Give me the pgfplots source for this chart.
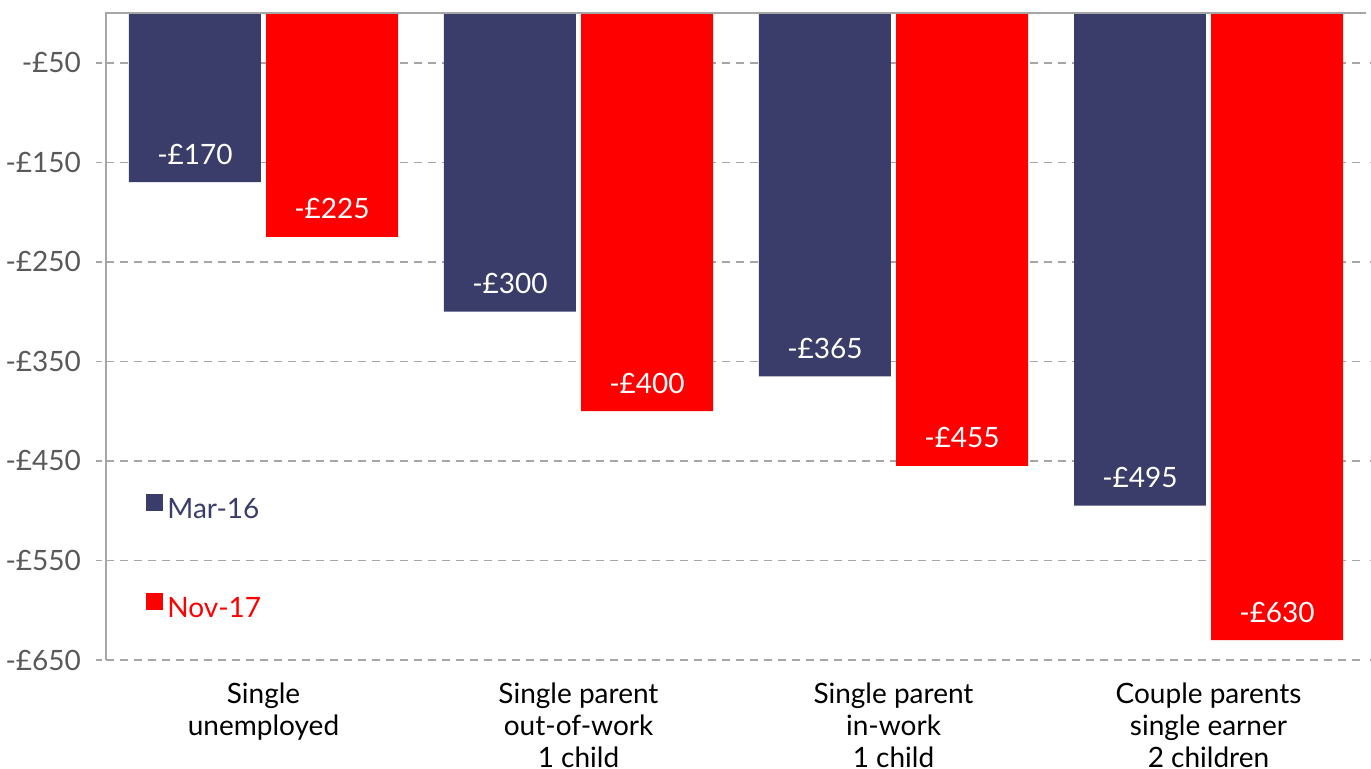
\documentclass[border=0pt]{standalone}
\usepackage{fontspec}
\setmainfont{Lato}
\usepackage{pgfplots}
\pgfplotsset{compat=1.18}
\definecolor{navyc}{HTML}{3A3D6A}
\definecolor{redc}{HTML}{FF0000}
\definecolor{tickc}{HTML}{595959}
\definecolor{gridc}{HTML}{A6A6A6}
\begin{document}
\begin{tikzpicture}
\path[use as bounding box] (-53pt,-54.5pt) rectangle (632.5pt,330pt);
\begin{axis}[
  at={(0,0)}, anchor=south west,
  scale only axis, width=630pt, height=323.5pt,
  ybar, bar width=0.419,
  xmin=-0.5, xmax=3.5, ymin=-650, ymax=0,
  xtick={0,1,2,3},
  xticklabels={{Single\\unemployed},{Single parent\\out-of-work\\1 child},{Single parent\\in-work\\1 child},{Couple parents\\single earner\\2 children}},
  xticklabel style={align=center, text=black, font=\fontsize{14}{16}\selectfont, yshift=-3pt},
  xtick style={draw=none},
  ytick={-650,-550,-450,-350,-250,-150,-50},
  yticklabels={-£650,-£550,-£450,-£350,-£250,-£150,-£50},
  yticklabel style={text=tickc, font=\fontsize{14}{16}\selectfont, xshift=-4pt},
  ytick style={draw=gridc, dashed, line width=0.8pt},
  tick align=outside, major tick length=5pt,
  ymajorgrids, major grid style={draw=gridc, dashed, line width=0.8pt, dash pattern=on 4pt off 3pt},
  axis line style={draw=none},
  point meta=explicit symbolic,
  nodes near coords,
  every node near coord/.append style={text=white, font=\fontsize{14}{16}\selectfont, anchor=center, yshift=14pt},
  legend style={at={(0.027,0.264)}, anchor=north west, draw=none, fill=none, row sep=34pt, font=\fontsize{14}{16}\selectfont},
  legend cell align=left,
  clip=false,
  after end axis/.code={\draw[gridc, line width=0.8pt] (rel axis cs:0,0) -- (rel axis cs:0,1) -- (rel axis cs:1,1);},
]
\addplot[fill=navyc, draw=none, bar shift=-0.2175,
  legend image code/.code={\fill[navyc] (0pt,-0.5pt) rectangle (8.5pt,8pt);}]
  coordinates {(0,-170) [-£170] (1,-300) [-£300] (2,-365) [-£365] (3,-495) [-£495]};
\addlegendentry{\textcolor{navyc}{Mar-16}}
\addplot[fill=redc, draw=none, bar shift=0.2175,
  legend image code/.code={\fill[redc] (0pt,-0.5pt) rectangle (8.5pt,8pt);}]
  coordinates {(0,-225) [-£225] (1,-400) [-£400] (2,-455) [-£455] (3,-630) [-£630]};
\addlegendentry{\textcolor{redc}{Nov-17}}
\end{axis}
\end{tikzpicture}
\end{document}
